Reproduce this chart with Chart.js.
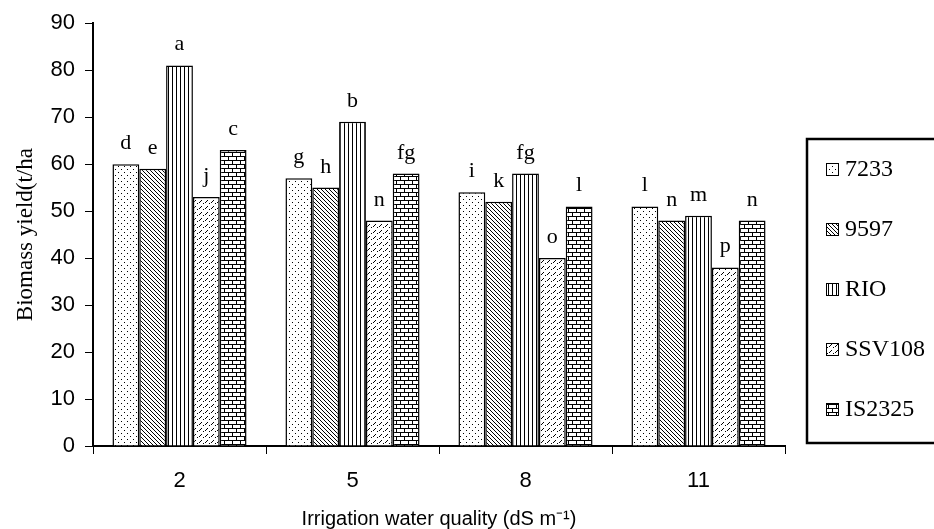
<!DOCTYPE html>
<html><head><meta charset="utf-8">
<script src="https://cdn.jsdelivr.net/npm/chart.js@4/dist/chart.umd.min.js"></script>
<style>html,body{margin:0;padding:0;background:#fff}#wrap{width:934px;height:529px}</style>
</head><body><div id="wrap"><canvas id="c" width="934" height="529"></canvas></div>
<script>
const categories = ['2', '5', '8', '11'];
const seriesNames = ['7233', '9597', 'RIO', 'SSV108', 'IS2325'];
const v7233   = [60, 57, 54, 51];
const v9597   = [59, 55, 52, 48];
const vRIO    = [81, 69, 58, 49];
const vSSV108 = [53, 48, 40, 38];
const vIS2325 = [63, 58, 51, 48];
const l7233   = ['d', 'g', 'i', 'l'];
const l9597   = ['e', 'h', 'k', 'n'];
const lRIO    = ['a', 'b', 'fg', 'm'];
const lSSV108 = ['j', 'n', 'o', 'p'];
const lIS2325 = ['c', 'fg', 'l', 'n'];
const yMin = 0, yMax = 90, yStep = 10;
const xTitle = 'Irrigation water quality (dS m\u207B\u00B9)';
const yTitle = 'Biomass yield(t/ha';

function makePattern(kind) {
  const c = document.createElement('canvas');
  let w = 6, h = 6;
  if (kind === 'diag') { w = 4; h = 4; }
  if (kind === 'vert') { w = 4; h = 1; }
  if (kind === 'brick') { w = 8; h = 8; }
  c.width = w; c.height = h;
  const g = c.getContext('2d');
  g.fillStyle = '#fff'; g.fillRect(0, 0, w, h);
  g.fillStyle = '#000';
  const px = (x, y) => g.fillRect(x, y, 1, 1);
  if (kind === 'dots') { px(1, 1); px(4, 4); }
  if (kind === 'diag') { px(0, 0); px(1, 1); px(2, 2); px(3, 3); }
  if (kind === 'vert') { px(0, 0); }
  if (kind === 'dash') { px(1, 4); px(2, 3); px(3, 2); px(5, 5); }
  if (kind === 'brick') {
    g.fillRect(0, 0, 8, 1); g.fillRect(0, 4, 8, 1);
    px(0, 1); px(0, 2); px(0, 3); px(4, 5); px(4, 6); px(4, 7);
  }
  return document.getElementById('c').getContext('2d').createPattern(c, 'repeat');
}

const kinds = ['dots', 'diag', 'vert', 'dash', 'brick'];
const values = [v7233, v9597, vRIO, vSSV108, vIS2325];
const letters = [l7233, l9597, lRIO, lSSV108, lIS2325];
const patterns = kinds.map(makePattern);

const letterPlugin = {
  id: 'letters',
  afterDatasetsDraw(chart) {
    const ctx = chart.ctx;
    ctx.save();
    ctx.fillStyle = '#000';
    ctx.font = '22px "Liberation Serif"';
    ctx.textAlign = 'center';
    ctx.textBaseline = 'alphabetic';
    chart.data.datasets.forEach((ds, i) => {
      const meta = chart.getDatasetMeta(i);
      meta.data.forEach((el, j) => {
        ctx.fillText(letters[i][j], el.x, el.y - 15);
      });
    });
    ctx.restore();
  }
};

const legendPlugin = {
  id: 'boxLegend',
  afterDraw(chart) {
    const ctx = chart.ctx;
    ctx.save();
    ctx.strokeStyle = '#000';
    ctx.lineWidth = 2.5;
    ctx.strokeRect(807, 139, 140, 304);
    ctx.font = '24px "Liberation Serif"';
    ctx.textBaseline = 'middle';
    ctx.textAlign = 'left';
    chart.data.datasets.forEach((ds, i) => {
      const y = 169 + i * 60;
      ctx.fillStyle = ds.backgroundColor;
      ctx.fillRect(826, y - 6, 13, 13);
      ctx.lineWidth = 1;
      ctx.strokeStyle = '#000';
      ctx.strokeRect(826.5, y - 5.5, 12, 12);
      ctx.fillStyle = '#000';
      ctx.fillText(ds.label, 845, y + 1);
    });
    ctx.restore();
  }
};

new Chart(document.getElementById('c'), {
  type: 'bar',
  data: {
    labels: categories,
    datasets: seriesNames.map((name, i) => ({
      label: name,
      data: values[i],
      backgroundColor: patterns[i],
      borderColor: '#000',
      borderWidth: 1.5,
      categoryPercentage: 0.775,
      barPercentage: 1.0
    }))
  },
  options: {
    responsive: false,
    animation: false,
    layout: { padding: { left: 0, right: 149, top: 19, bottom: 0 } },
    plugins: { legend: { display: false }, tooltip: { enabled: false } },
    scales: {
      x: {
        grid: { offset: true, drawOnChartArea: false, drawTicks: true, tickLength: 8, color: '#000', lineWidth: 1 },
        border: { display: true, color: '#000', width: 2 },
        ticks: { color: '#000', font: { family: 'Liberation Sans', size: 22 }, padding: 14 },
        title: { display: true, text: xTitle, color: '#000', font: { family: 'Liberation Sans', size: 20, lineHeight: 1 }, padding: { top: 4, bottom: 0 } },
        afterFit(s) { s.height = 83; }
      },
      y: {
        min: yMin, max: yMax,
        grid: { drawOnChartArea: false, drawTicks: true, tickLength: 8, color: '#000', lineWidth: 1 },
        border: { display: true, color: '#000', width: 2 },
        ticks: { stepSize: yStep, color: '#000', font: { family: 'Liberation Sans', size: 22 }, padding: 10 },
        title: { display: true, text: yTitle, color: '#000', font: { family: 'Liberation Serif', size: 23 }, padding: { top: 12, bottom: 4 } },
        afterFit(s) { s.width = 93; }
      }
    }
  },
  plugins: [letterPlugin, legendPlugin]
});
</script>
</body></html>
